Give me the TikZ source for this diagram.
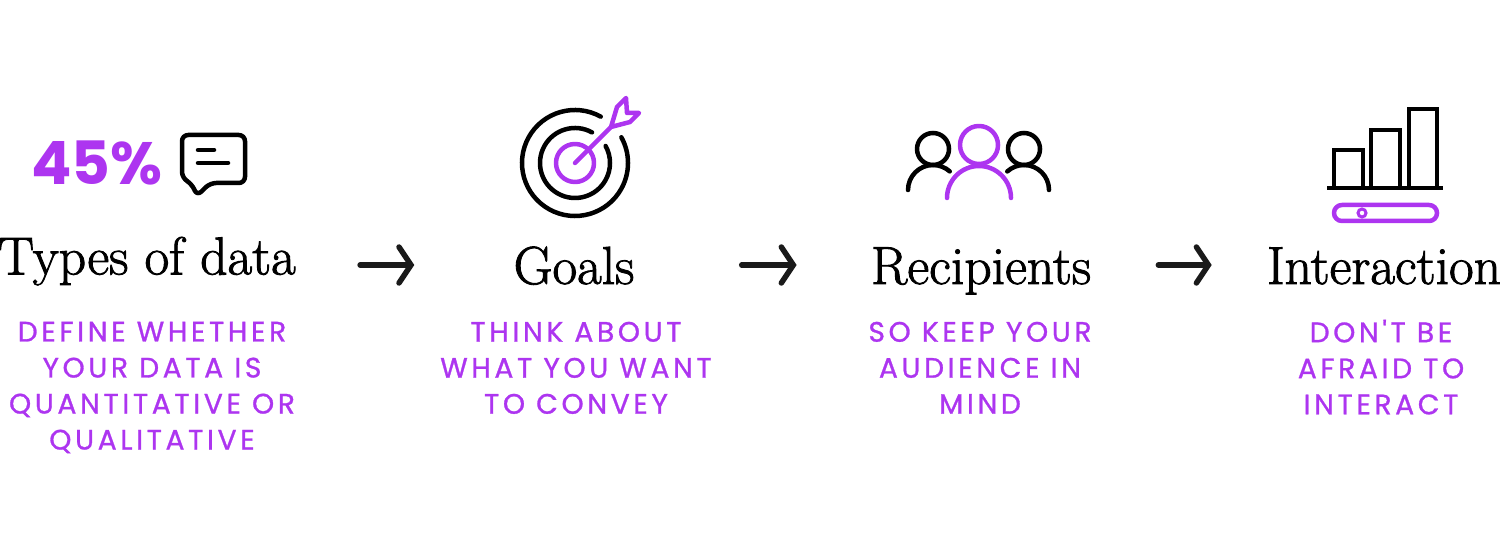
\documentclass[tikz,border=0pt]{standalone}
\usepackage{fontspec}
\usetikzlibrary{arrows.meta}
\newfontfamily\capsfont[LetterSpace=13,FakeBold=1]{Poppins}
\newfontfamily\bigfont{Poppins}
\newfontfamily\titlefont[FakeBold=1.6]{Latin Modern Roman}
\definecolor{purplet}{HTML}{AD35F0}
\definecolor{greyt}{HTML}{1A1A1A}
\tikzset{
  titletext/.style={inner sep=0pt,text height=0.76cm,text depth=0pt,font=\titlefont\fontsize{30.5}{30.5}\selectfont},
  notetext/.style={inner sep=0pt,anchor=north,align=center,text=purplet,font=\capsfont\fontsize{16}{20.5}\selectfont},
  flowarrow/.style={greyt,line width=0.11cm,line cap=round,-{Straight Barb[length=0.24cm,width=0.72cm,line cap=round]}},
  blackline/.style={black,line width=0.09cm,line cap=round},
  purpleline/.style={purplet,line width=0.09cm,line cap=round,line join=round},
}

\begin{document}
\begin{tikzpicture}[x=0.02cm,y=0.02cm]
    \useasboundingbox (0,0) rectangle (1500,550);
    \node[titletext] (types) at (147,294.5){Types of data};
    \node[titletext] (goals) at (574,285){Goals};
    \node[titletext] (recipients) at (981,285){Recipients};
    \node[titletext] (interaction) at (1384,285){Interaction};
    \node[notetext] (typesnote) at (152,228.5){DEFINE WHETHER\\YOUR DATA IS\\QUANTITATIVE OR\\QUALITATIVE};
    \node[notetext] (goalsnote) at (576,228.5){THINK ABOUT\\WHAT YOU WANT\\TO CONVEY};
    \node[notetext] (recipientsnote) at (980,228.5){SO KEEP YOUR\\AUDIENCE IN\\MIND};
    \node[notetext] (interactionnote) at (1381,230.5){DON'T BE\\AFRAID TO\\INTERACT};
    \draw[flowarrow,shorten <=1.28cm,shorten >=1.98cm] (types.east |- goals.west) -- (goals.west);
    \draw[flowarrow,shorten <=2.14cm,shorten >=1.48cm] (goals.east) -- (recipients.west);
    \draw[flowarrow,shorten <=1.34cm,shorten >=1.1cm] (recipients.east) -- (interaction.west);
    % 45% and speech bubble
    \node[purplet,inner sep=0pt,font=\bigfont\bfseries\fontsize{34}{34}\selectfont] (percent) at (97,387){45\%};
    \draw[blackline,line join=round,rounded corners=3.5] (210,415) -- (245,415) -- (245,367) -- (210,367) -- (197,354) -- (192,366) -- (182,372) -- (182,415) -- cycle;
    \draw[blackline] (198,400) -- (214,400);
    \draw[blackline] (198,387) -- (228,387);
    % target
    \draw[blackline] (575,387) ++(61:53) arc[start angle=61,end angle=389,radius=53];
    \draw[blackline] (575,387) ++(61:35) arc[start angle=61,end angle=389,radius=35];
    \draw[purpleline] (575,387) circle[radius=19];
    \draw[purpleline] (575,387) -- (611,423);
    \draw[purpleline] (611,423) -- (617,443) -- (626,452) -- (627,437) -- (639,437) -- (630,428) -- cycle;
    % people
    \draw[blackline] (933,401) circle[radius=16];
    \draw[blackline] (1024,401) circle[radius=16];
    \draw[blackline] (908,360) arc[start angle=180,end angle=48,radius=25];
    \draw[blackline] (1049,360) arc[start angle=0,end angle=132,radius=25];
    \draw[purpleline] (979,405) circle[radius=19];
    \draw[purpleline] (947,352) arc[start angle=180,end angle=0,radius=32];
    % bars
    \draw[black,line width=0.08cm] (1334,362) rectangle (1363,400);
    \draw[black,line width=0.08cm] (1371,362) rectangle (1400,420);
    \draw[black,line width=0.08cm] (1409,362) rectangle (1437,441);
    \draw[black,line width=0.08cm] (1327,362) -- (1443,362);
    \draw[purpleline,rounded corners=4.5] (1334,329) rectangle (1437,345);
    \draw[purplet,line width=0.06cm] (1362,337) circle[radius=4];
  \end{tikzpicture}
\end{document}
